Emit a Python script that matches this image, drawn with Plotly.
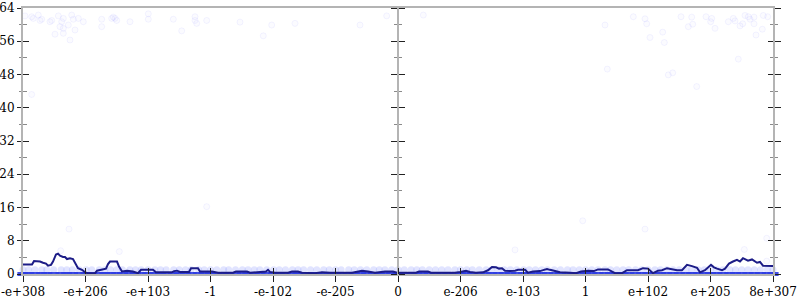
import plotly.graph_objects as go

# ---- data (x in axis index units: 0..12 across the tick positions) ----
tick_labels = ["-e+308", "-e+206", "-e+103", "-1", "-e-102", "-e-205", "0",
               "e-206", "e-103", "1", "e+102", "e+205", "8e+307"]
tick_pos = list(range(len(tick_labels)))

line_x = [0.000, 0.144, 0.176, 0.272, 0.320, 0.368, 0.400, 0.448, 0.480, 0.528, 0.560, 0.592,
          0.640, 0.672, 0.704, 0.752, 0.800, 0.832, 0.880, 0.944, 0.992, 1.040, 1.152, 1.184,
          1.296, 1.328, 1.360, 1.392, 1.504, 1.536, 1.584, 1.664, 1.760, 1.840, 1.888, 2.080,
          2.128, 2.384, 2.416, 2.464, 2.512, 2.656, 2.688, 2.800, 2.832, 3.024, 3.120, 3.360,
          3.408, 3.584, 3.632, 3.840, 3.888, 3.920, 3.952, 4.032, 4.240, 4.304, 4.400, 4.464,
          4.672, 4.784, 4.912, 5.264, 5.344, 5.424, 5.520, 5.632, 5.792, 5.920, 5.984, 6.192,
          6.288, 6.336, 6.480, 6.528, 6.912, 6.992, 7.088, 7.152, 7.248, 7.360, 7.440, 7.504,
          7.568, 7.616, 7.664, 7.712, 7.792, 7.872, 7.920, 8.032, 8.080, 8.160, 8.272, 8.336,
          8.384, 8.432, 8.496, 8.592, 8.752, 8.848, 8.928, 9.040, 9.136, 9.200, 9.360, 9.472,
          9.584, 9.664, 9.840, 9.920, 10.000, 10.080, 10.160, 10.224, 10.304, 10.384, 10.464,
          10.544, 10.624, 10.704, 10.784, 10.832, 10.912, 11.008, 11.056, 11.104, 11.184,
          11.232, 11.296, 11.360, 11.424, 11.472, 11.520, 11.600, 11.664, 11.744, 11.792,
          11.840, 12.000]
line_y = [2.3, 2.3, 3.1, 3.0, 2.7, 2.5, 2.0, 2.2, 3.0, 4.7, 4.9, 4.4,
          4.1, 4.1, 3.6, 3.8, 3.6, 2.8, 1.4, 1.0, 0.4, 0.2, 0.2, 0.8,
          1.1, 1.3, 2.4, 3.0, 3.0, 1.8, 0.6, 0.75, 0.6, 0.2, 1.0, 1.0,
          0.4, 0.4, 0.7, 0.8, 0.5, 0.5, 1.4, 1.4, 0.6, 0.6, 0.3, 0.3,
          0.6, 0.6, 0.3, 0.4, 0.6, 1.0, 0.5, 0.3, 0.3, 0.6, 0.6, 0.3,
          0.2, 0.4, 0.3, 0.3, 0.6, 0.8, 0.6, 0.3, 0.6, 0.6, 0.3, 0.2,
          0.3, 0.6, 0.6, 0.3, 0.3, 0.5, 0.8, 0.5, 0.3, 0.4, 0.9, 1.7,
          1.6, 1.3, 1.4, 0.8, 0.7, 0.8, 1.0, 1.0, 0.3, 0.6, 0.7, 1.0,
          1.2, 1.0, 0.8, 0.4, 0.3, 0.2, 0.6, 0.8, 0.7, 1.1, 1.1, 0.2,
          0.2, 0.9, 0.9, 1.4, 1.3, 0.2, 0.8, 0.9, 1.4, 1.1, 0.9,
          0.9, 2.2, 1.9, 1.5, 0.4, 0.9, 2.2, 1.6, 1.3, 0.9,
          1.3, 2.5, 3.0, 3.4, 3.0, 3.8, 3.2, 3.5, 2.7, 2.9,
          2.0, 1.9]

# dense samples on the bottom rows (error 0 and error 1)
band_x = [0.00, 0.09, 0.19, 0.30, 0.38, 0.49, 0.61, 0.70, 0.79, 0.90, 1.01, 1.10, 1.22, 1.31,
          1.40, 1.50, 1.59, 1.71, 1.80, 1.89, 2.00, 2.11, 2.20, 2.29, 2.41, 2.50, 2.60, 2.69,
          2.81, 2.90, 3.00, 3.10, 3.21, 3.29, 3.40, 3.51, 3.60, 3.70, 3.79, 3.90, 4.01, 4.10,
          4.20, 4.31, 4.40, 4.49, 4.60, 4.70, 4.81, 4.90, 5.00, 5.09, 5.21, 5.30, 5.40, 5.50,
          5.61, 5.70, 5.79, 5.90, 6.00, 6.10, 6.21, 6.30, 6.39, 6.50, 6.60, 6.70, 6.80, 6.91,
          7.00, 7.10, 7.19, 7.30, 7.41, 7.50, 7.60, 7.70, 7.80, 7.90, 8.01, 8.10, 8.20, 8.30,
          8.39, 8.50, 8.60, 8.71, 8.80, 8.90, 9.00, 9.10, 9.20, 9.31, 9.40, 9.50, 9.60, 9.69,
          9.80, 9.90, 10.00, 10.11, 10.20, 10.30, 10.40, 10.50, 10.61, 10.70, 10.80, 10.90,
          11.00, 11.10, 11.20, 11.31, 11.40, 11.50, 11.60, 11.70, 11.80, 11.91, 12.00]
zero_y = [0] * len(band_x)
one_y = [1] * len(band_x)

# sparse samples
sparse_x = [0.032, 0.139, 0.165, 0.245, 0.272, 0.299, 0.432, 0.459, 0.512, 0.565, 0.592, 0.619,
            0.645, 0.645, 0.645, 0.725, 0.752, 0.779, 0.805, 0.832, 0.885, 0.965, 1.259, 1.259,
            1.419, 1.445, 1.472, 1.499, 1.712, 2.005, 2.005, 2.405, 2.539, 2.752, 2.752, 2.779,
            0.139, 2.939, 3.472, 3.979, 3.845, 4.352, 5.392, 5.819, 6.405,
            9.312, 9.765, 9.952, 9.979, 10.032, 10.235, 10.261, 10.528, 10.645, 10.699, 10.715,
            10.928, 11.003, 11.019, 11.072, 11.285, 11.365, 11.392, 11.472, 11.515, 11.552,
            11.605, 11.632, 11.696, 11.696, 11.728, 11.829, 11.845, 11.915, 11.445, 9.349,
            10.325, 10.395, 10.779,
            0.736, 1.541, 0.603, 2.939, 8.955, 7.872, 9.952, 11.541, 11.899, 11.899]
sparse_y = [62.1, 61.9, 61.5, 62.3, 61.0, 61.3, 60.7, 61.0, 57.7, 62.1, 59.5, 60.7,
            61.5, 59.1, 57.9, 59.9, 56.3, 62.3, 61.3, 58.7, 61.5, 60.7, 61.3, 59.5,
            61.5, 61.8, 61.5, 61.0, 60.7, 62.6, 61.3, 61.3, 58.5, 61.9, 61.0, 60.3,
            43.2, 61.0, 60.6, 59.9, 57.3, 60.3, 59.9, 62.1, 62.3,
            59.9, 61.9, 61.4, 60.2, 56.9, 58.2, 55.7, 61.9, 59.5, 61.8, 60.1,
            61.9, 60.7, 61.5, 59.1, 60.7, 61.5, 60.9, 59.7, 60.2, 62.2,
            61.9, 61.3, 61.8, 60.2, 57.5, 58.9, 62.2, 61.9, 51.7, 49.3,
            47.9, 48.4, 45.1,
            10.8, 5.4, 5.6, 16.2, 12.8, 5.8, 10.8, 5.9, 8.6, 3.1]

y_ticks = [0, 8, 16, 24, 32, 40, 48, 56, 64]

FONT = "DejaVu Serif"
AXC = "#b4b4b4"
TKC = "#222222"
MNC = "#8a8a8a"

fig = go.Figure()
fig.add_trace(go.Scatter(x=band_x, y=one_y, mode="markers", cliponaxis=False,
                         marker=dict(size=7, color="rgba(120,130,255,0.22)",
                                     line=dict(width=0)),
                         hoverinfo="skip", showlegend=False))
fig.add_trace(go.Scatter(x=sparse_x, y=sparse_y, mode="markers", cliponaxis=False,
                         marker=dict(size=6, color="rgba(120,120,255,0.03)",
                                     line=dict(width=1, color="rgba(120,120,255,0.08)")),
                         hoverinfo="skip", showlegend=False))
fig.add_trace(go.Scatter(x=band_x, y=zero_y, mode="markers", cliponaxis=False,
                         marker=dict(symbol="line-ew", size=8, color="rgb(45,60,225)",
                                     line=dict(width=4, color="rgba(45,60,225,0.9)")),
                         hoverinfo="skip", showlegend=False))
fig.add_trace(go.Scatter(x=line_x, y=line_y, mode="lines", cliponaxis=False,
                         line=dict(color="rgb(28,28,135)", width=2),
                         hoverinfo="skip", showlegend=False))
# empty traces so the overlay axes (extra tick rows) are created
for ax in ["y2", "y3", "y4", "y5", "y6"]:
    fig.add_trace(go.Scatter(x=[], y=[], xaxis="x", yaxis=ax, mode="markers",
                             hoverinfo="skip", showlegend=False))
fig.add_trace(go.Scatter(x=[], y=[], xaxis="x2", yaxis="y", mode="markers",
                         hoverinfo="skip", showlegend=False))

common_y = dict(range=[0, 64], tickvals=y_ticks, showgrid=False, zeroline=False,
                tickcolor=TKC, tickwidth=1, automargin=False)
minor_base = dict(dtick=4, tick0=0, tickcolor=MNC, tickwidth=1, showgrid=False)

fig.update_layout(
    width=800, height=300,
    margin=dict(l=23, r=27, t=8, b=26, autoexpand=False),
    paper_bgcolor="white", plot_bgcolor="white",
    font=dict(family=FONT, size=12, color="black"),
    xaxis=dict(range=[0, 12], tickvals=tick_pos, ticktext=tick_labels,
               ticks="outside", ticklen=6, tickcolor=TKC, tickwidth=1,
               showline=True, linecolor=AXC, linewidth=2, mirror=True,
               showgrid=False, zeroline=False, automargin=False,
               tickfont=dict(family=FONT, size=12, color="black")),
    xaxis2=dict(range=[0, 12], tickvals=tick_pos, overlaying="x", anchor="y",
                ticks="inside", ticklen=6, tickcolor=TKC, tickwidth=1, automargin=False,
                showticklabels=False, showline=False, showgrid=False, zeroline=False),
    yaxis=dict(**common_y, side="left", ticks="outside", ticklen=4,
               showline=True, linecolor=AXC, linewidth=2,
               minor=dict(**minor_base, ticks="outside", ticklen=2),
               tickfont=dict(family=FONT, size=12, color="black")),
    yaxis2=dict(**common_y, overlaying="y", side="left", anchor="x",
                ticks="inside", ticklen=6, showticklabels=False, showline=False,
                minor=dict(**minor_base, ticks="inside", ticklen=4)),
    yaxis3=dict(**common_y, overlaying="y", side="right", anchor="x",
                ticks="outside", ticklen=6, showticklabels=False,
                showline=True, linecolor=AXC, linewidth=2,
                minor=dict(**minor_base, ticks="outside", ticklen=3)),
    yaxis4=dict(**common_y, overlaying="y", side="right", anchor="x",
                ticks="inside", ticklen=5, showticklabels=False, showline=False,
                minor=dict(**minor_base, ticks="inside", ticklen=3)),
    yaxis5=dict(**common_y, overlaying="y", side="left", anchor="free", position=0.5,
                ticks="outside", ticklen=6, showticklabels=False,
                showline=True, linecolor=AXC, linewidth=2,
                minor=dict(**minor_base, ticks="outside", ticklen=3)),
    yaxis6=dict(**common_y, overlaying="y", side="right", anchor="free", position=0.5,
                ticks="outside", ticklen=6, showticklabels=False, showline=False,
                minor=dict(**minor_base, ticks="outside", ticklen=3)),
)

fig.write_html("out.html")
